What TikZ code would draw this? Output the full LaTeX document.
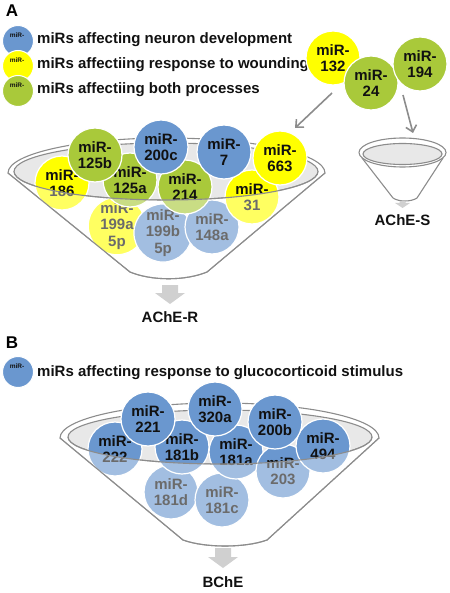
\documentclass[tikz,border=0pt]{standalone}
\usepackage{fontspec}
\setmainfont{Liberation Sans}
\usetikzlibrary{arrows.meta}
\definecolor{mblue}{HTML}{6A97CF}
\definecolor{myellow}{HTML}{FFFF00}
\definecolor{mgreen}{HTML}{A9C93A}
\definecolor{rimgray}{HTML}{8C8C8C}
\definecolor{fillgray}{HTML}{E8E8E8}
\definecolor{arrowgray}{HTML}{D0D0D0}
\definecolor{txt}{HTML}{111111}
\begin{document}
\begin{tikzpicture}[x=1pt,y=-1pt,
  mir/.style={circle,minimum size=54pt,inner sep=0pt,draw=white,line width=1.2pt,
    font=\fontsize{15}{16.5}\selectfont\bfseries,align=center,text=txt},
  legc/.style={circle,minimum size=31pt,inner sep=0pt,draw=white,line width=1pt},
  tinytxt/.style={font=\fontsize{6.5}{7}\selectfont\bfseries,text=txt,inner sep=0pt},
  legtxt/.style={font=\fontsize{15}{16}\selectfont\bfseries,text=txt,anchor=west,inner sep=0pt},
  paneltxt/.style={font=\fontsize{17}{18}\selectfont\bfseries,text=black,inner sep=0pt},
  lbl/.style={font=\fontsize{15}{16}\selectfont\bfseries,text=txt,inner sep=0pt},
  rim/.style={draw=rimgray,line width=1.1pt},
  arr/.style={draw=rimgray,line width=1.6pt,-{Straight Barb[length=6pt,width=11pt]}},
  blockarr/.style={fill=arrowgray,draw=none},
  veil/.style={fill=white,opacity=.38}]
\useasboundingbox (0,0) rectangle (449,593);

% ---------------- Panel A ----------------
\node[paneltxt] (pA) at (12,11) {A};
\node[legc,fill=mblue] (lg1) at (18,41) {};
\node[tinytxt] at (17,35) {miR-};
\node[legc,fill=myellow] (lg2) at (18,66) {};
\node[tinytxt] at (17,60) {miR-};
\node[legc,fill=mgreen] (lg3) at (18,91) {};
\node[tinytxt] at (17,85) {miR-};
\node[legtxt] (lt1) at (37,40) {miRs affecting neuron development};
\node[legtxt] (lt2) at (37,65) {miRs affectiing response to wounding};
\node[legtxt] (lt3) at (37,90) {miRs affectiing both processes};

% top right circles
\node[mir,fill=myellow] (c132) at (333,58) {miR-\\132};
\node[mir,fill=mgreen] (c24) at (371,83) {miR-\\24};
\node[mir,fill=mgreen] (c194) at (420,64) {miR-\\194};
\coordinate (a1s) at (332,93);
\coordinate (a1e) at (295,128);
\coordinate (a2s) at (403,95);
\coordinate (a2e) at (413,133);
\draw[arr] (a1s) -- (a1e);
\draw[arr] (a2s) -- (a2e);

% small funnel AChE-S
\draw[rim,fill=white] (402.5,152.5) ellipse[x radius=43.5pt,y radius=14.5pt];
\draw[rim,fill=fillgray] (402.5,154) ellipse[x radius=39.5pt,y radius=10.5pt];
\draw[rim] (362,158) -- (393,198) .. controls (399,202) and (411,202) .. (417,198) -- (443,158);
\fill[blockarr] (399.5,201) -- (405.5,201) -- (405.5,203) -- (410,203) -- (402.5,208) -- (395,203) -- (399.5,203) -- cycle;
\node[lbl] (lS) at (402.5,220) {AChE-S};

% big funnel A
\draw[rim] (130,272) -- (8,173) arc[start angle=180,end angle=0,x radius=158.5pt,y radius=35pt]
  -- (207,272) .. controls (185,281) and (152,281) .. (130,272);
\draw[rim,fill=fillgray] (166,171.5) ellipse[x radius=152pt,y radius=28.5pt];

\node[mir,fill=myellow] (c199a) at (117,226) {miR-\\199a\\5p};
\node[mir,fill=mblue] (c199b) at (163,233) {miR-\\199b\\5p};
\node[mir,fill=mblue] (c148a) at (212,227) {miR-\\148a};
\node[mir,fill=myellow] (c186) at (62,183) {miR-\\186};
\node[mir,fill=mgreen] (c125a) at (130,180) {miR-\\125a};
\node[mir,fill=mgreen] (c214) at (185,187) {miR-\\214};
\node[mir,fill=myellow] (c31) at (252,197) {miR-\\31};
\node[mir,fill=mgreen] (c125b) at (95,155) {miR-\\125b};
\node[mir,fill=mblue] (c200c) at (161,147) {miR-\\200c};
\node[mir,fill=mblue] (c7) at (224,152) {miR-\\7};
\node[mir,fill=myellow] (c663) at (280,158) {miR-\\663};

\fill[veil] (14,171.5) arc[start angle=180,end angle=360,x radius=152pt,y radius=28.5pt]
  -- (325,174) -- (207,272) .. controls (185,281) and (152,281) .. (130,272) -- (8,174) -- cycle;
\draw[rim] (14,171.5) arc[start angle=180,end angle=360,x radius=152pt,y radius=28.5pt];
\draw[rim] (8,173) -- (130,272) .. controls (152,281) and (185,281) .. (207,272) -- (325,173);

\fill[blockarr] (162,285) -- (178,285) -- (178,293) -- (185,293) -- (170,304) -- (155,293) -- (162,293) -- cycle;
\node[lbl] (lR) at (170,317) {AChE-R};

% ---------------- Panel B ----------------
\node[paneltxt] (pB) at (12,343) {B};
\node[legc,fill=mblue] (lg4) at (18,372) {};
\node[tinytxt] at (17,366) {miR-};
\node[legtxt] (lt4) at (37,373) {miRs affecting response to glucocorticoid stimulus};

\draw[rim] (183,540) -- (60,438) arc[start angle=180,end angle=0,x radius=159.5pt,y radius=35pt]
  -- (267,540) .. controls (245,548) and (205,548) .. (183,540);
\draw[rim,fill=fillgray] (220,437) ellipse[x radius=152pt,y radius=27pt];

\node[mir,fill=mblue] (c181d) at (171,492) {miR-\\181d};
\node[mir,fill=mblue] (c181c) at (222,500) {miR-\\181c};
\node[mir,fill=mblue] (c222) at (115,449) {miR-\\222};
\node[mir,fill=mblue] (c181b) at (182,447) {miR-\\181b};
\node[mir,fill=mblue] (c181a) at (236,452) {miR-\\181a};
\node[mir,fill=mblue] (c203) at (283,471) {miR-\\203};
\node[mir,fill=mblue] (c494) at (323,446) {miR-\\494};
\node[mir,fill=mblue] (c221) at (148,419) {miR-\\221};
\node[mir,fill=mblue] (c320a) at (215,409) {miR-\\320a};
\node[mir,fill=mblue] (c200b) at (275,422) {miR-\\200b};

\fill[veil] (68,437) arc[start angle=180,end angle=360,x radius=152pt,y radius=27pt]
  -- (379,439) -- (267,540) .. controls (245,548) and (205,548) .. (183,540) -- (60,439) -- cycle;
\draw[rim] (68,437) arc[start angle=180,end angle=360,x radius=152pt,y radius=27pt];
\draw[rim] (60,438) -- (183,540) .. controls (205,548) and (245,548) .. (267,540) -- (379,438);

\fill[blockarr] (215,548) -- (231,548) -- (231,557) -- (238,557) -- (223,568) -- (208,557) -- (215,557) -- cycle;
\node[lbl] (lB) at (223,582) {BChE};
\end{tikzpicture}
\end{document}
